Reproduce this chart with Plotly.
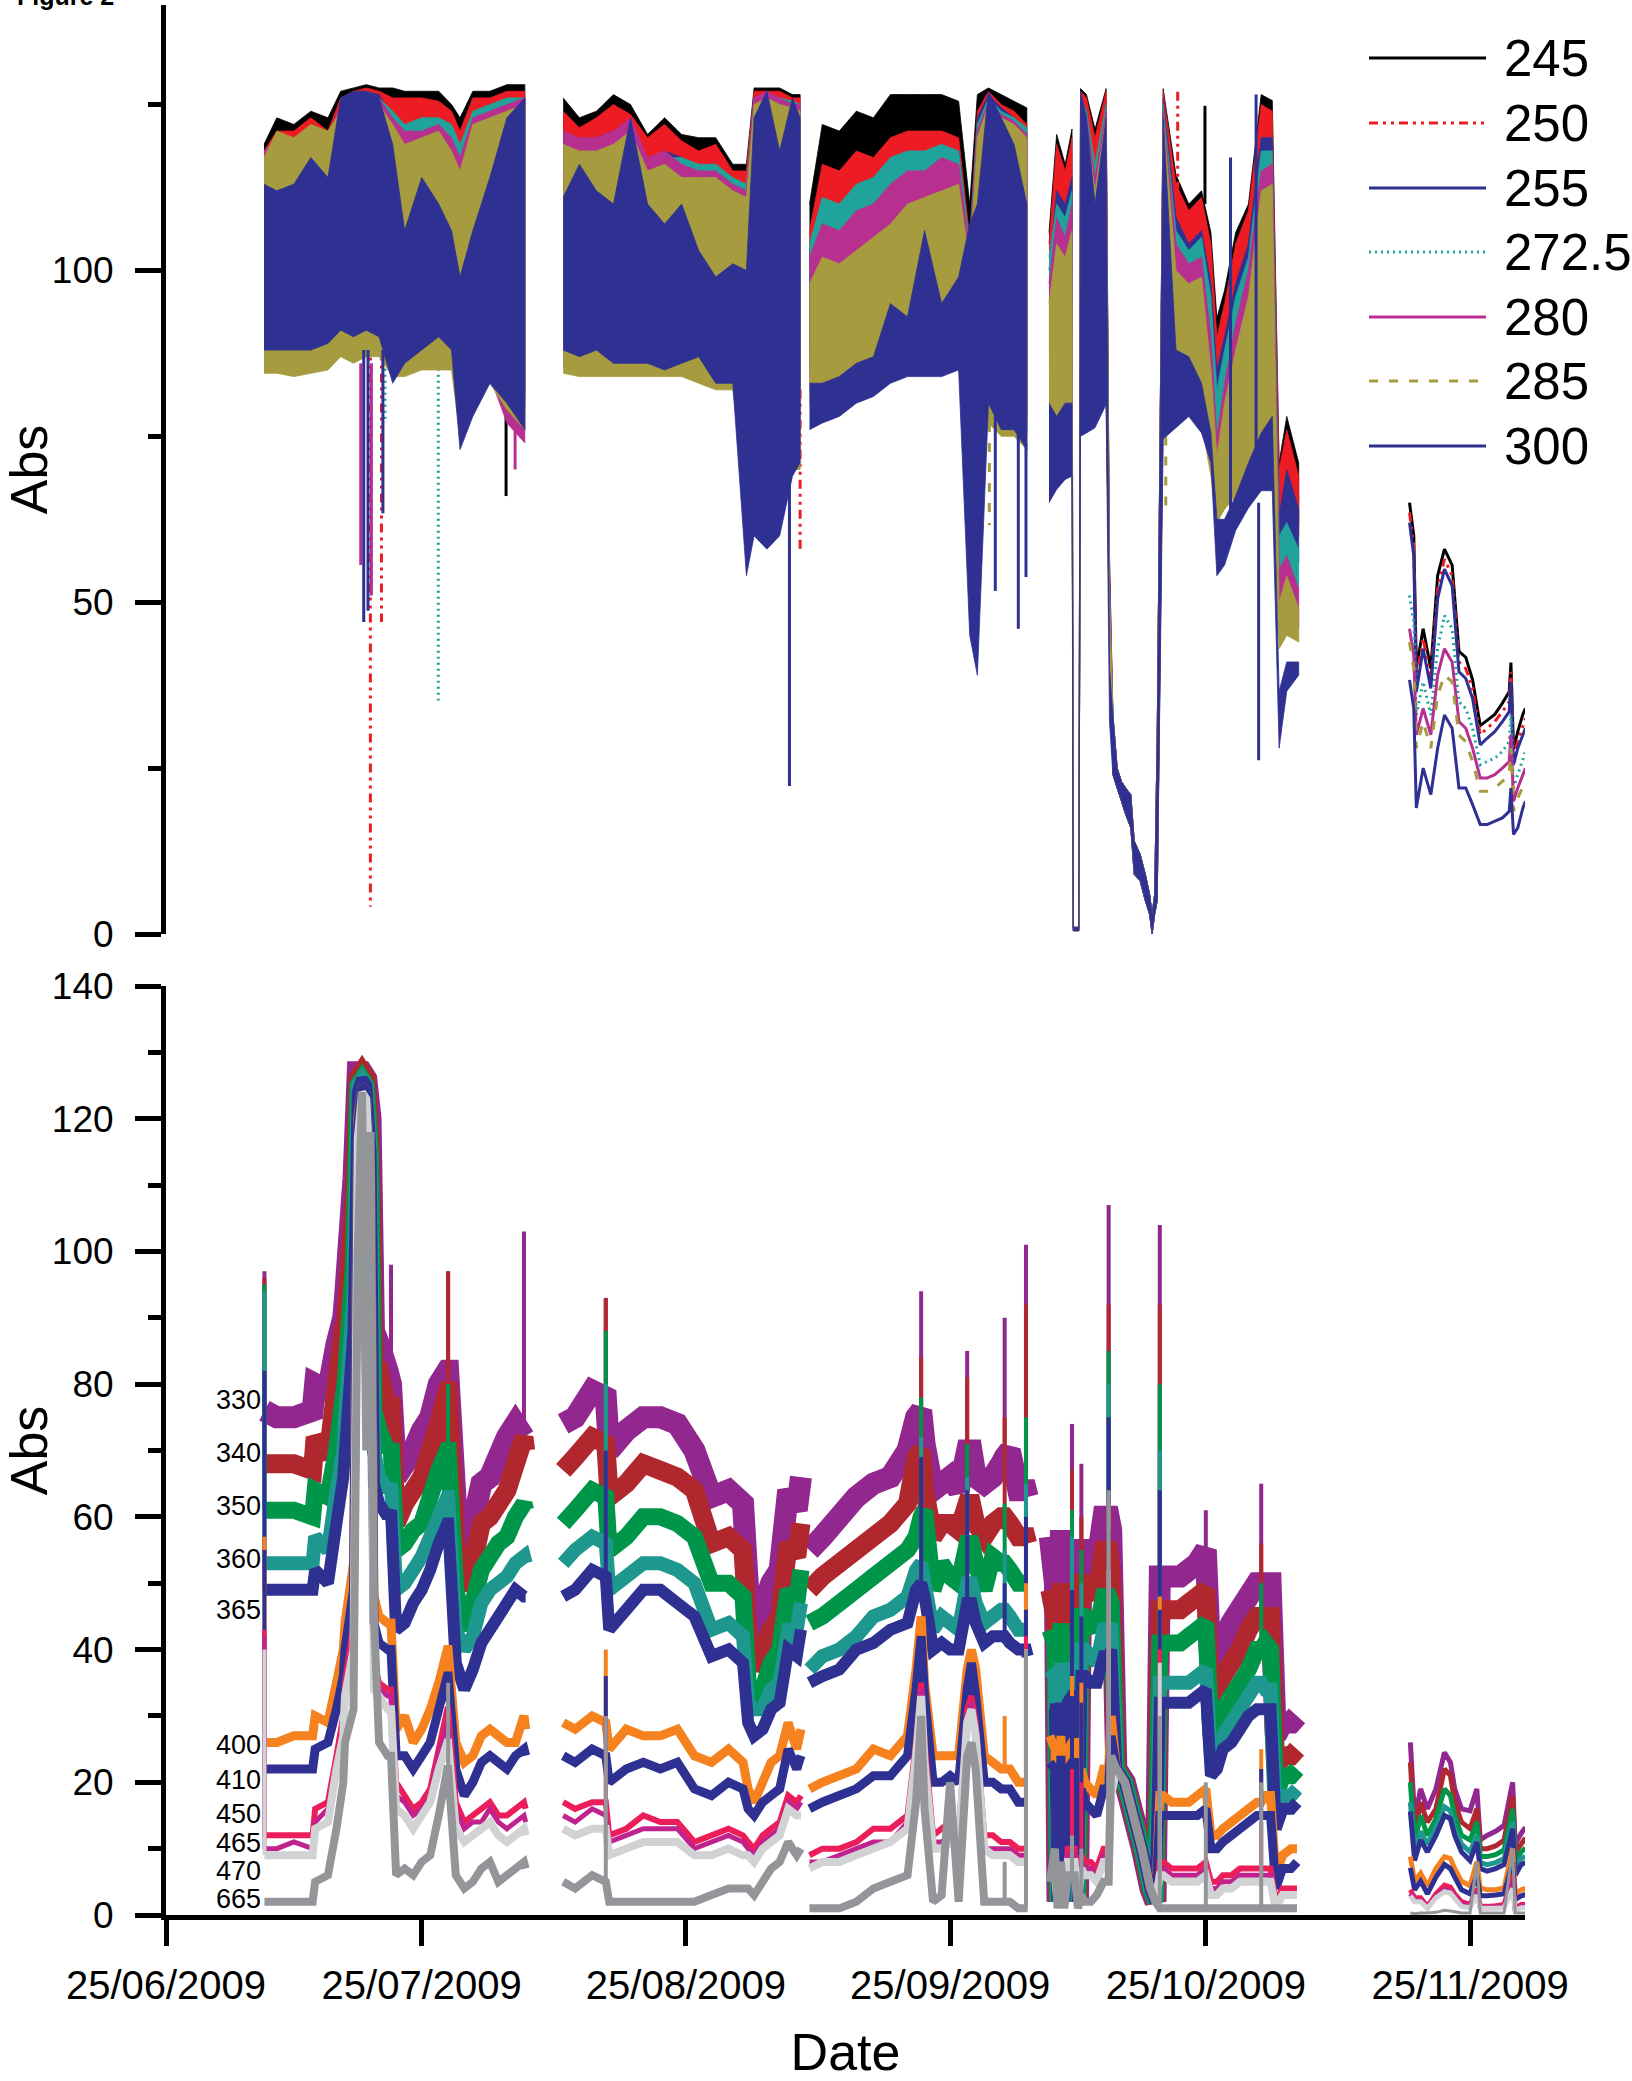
import pandas as pd
import plotly.graph_objects as go

T0 = pd.Timestamp("2009-06-25")          # day 0 of every "days" list below
X_END_DAYS = 159.45                       # right end of the time axis (days after 25/06/2009)

# ------------------------------------------------------------------ TOP PANEL (245-300 nm)
# band envelopes (upper / lower) per sampling day; None separates recording periods
top_days = [11.5, 13, 15, 17, 19, 20.5, 22, 23.5, 25, 26.6, 28, 30, 32, 33.5, 34.5, 36, 38, 40, 42.1, None,
            46.6, 48.5, 50.5, 52.5, 54.5, 56.5, 58.5, 60.5, 62.5, 64.5, 66.5, 68.1, 69, 70.5, 72, 73.5, 74.4, None,
            75.5, 77, 79, 81, 83, 85, 87, 89, 91, 93, 94.3, 95.2, 96.5, 98, 99.5, 101, None,
            103.6, 104.5, 105.5, 106.3, 106.45, 107.1, 107.3, 108, 109, 110.3, 110.7, 111.1, 111.6, 112.1, 112.6,
            113.2, 113.6, 114.3, 114.9, 115.4, 115.7, 116.0, 116.3, 117, 118.5, 120, 121.5, 122.6, 123.3, 124.2,
            125.5, 127, 128.5, 129.8, 130.6, 131.5, 132.9]

t245_hi = [119, 123, 122, 124, 123, 127, 127.5, 128, 127.5, 127.5, 127, 127, 127, 125, 123, 127, 127, 128, 128, None,
           126, 123, 124, 126.5, 125, 120.5, 123, 120.5, 120, 120, 116, 116, 127.5, 127.5, 127.5, 126.5, 126.5, None,
           110, 122, 121, 124, 123, 126.5, 126.5, 126.5, 126.5, 125.5, 110, 126.5, 127.5, 126.5, 125.5, 124.5, None,
           105.7, 120.5, 116, 121.3, 1, 1, 127.4, 126.5, 121.3, 127.4, 57, 33, 25, 23, 22, 21, 14, 12, 9, 6, 3, 6, 30,
           127.4, 114.4, 110, 112, 105.7, 92.8, 97, 105.7, 110, 126.5, 125.6, 71, 78, 71]
t245_lo = [90, 90, 90, 90, 90, 92, 92, 92, 92, 90, 90, 90, 90, 90, 86, 86, 88, 85, 82, None,
           90, 89, 89, 89, 89, 89, 89, 89, 88, 87, 87, 84, 82, 82, 82, 84, 84, None,
           88, 88, 88, 89, 90, 90, 91, 91, 91, 91, 78, 82, 82, 80, 80, 78, None,
           88, 88, 88, 88, 0.5, 0.5, 80, 88, 88, 88, 50, 24, 22, 20, 18, 16, 9, 8, 5, 3, 0, 3, 5,
           86, 86, 86, 84, 80, 74, 76, 78, 80, 84, 84, 62, 62, 62]

t250_hi = [118, 121, 121, 123, 121, 126, 127, 127.5, 127, 126, 126, 126, 125.5, 124, 121, 126, 126, 127, 127, None,
           124, 121.5, 123, 125, 123.5, 120, 122, 119.5, 118, 119, 115, 115, 127, 127, 127, 126, 126, None,
           106, 116, 115, 118, 117, 120, 121, 121, 121, 120, 105, 124, 127, 125, 124, 122, None,
           104, 119, 115, 120, 1, 1, 127, 126, 120, 127, 56, 33, 25, 23, 22, 21, 14, 12, 9, 6, 3, 6, 30,
           127, 113, 109, 111, 104, 90, 95, 104, 109, 125, 124, 70, 76, 69]
t250_lo = [89, 89, 89, 89, 89, 91, 91, 91, 91, 89, 89, 89, 89, 89, 84, 85, 87, 84, 81, None,
           89, 88, 88, 88, 88, 88, 88, 88, 87, 86, 86, 82, 80, 80, 80, 82, 82, None,
           87, 87, 87, 88, 89, 89, 90, 90, 90, 90, 76, 80, 81, 79, 79, 77, None,
           86, 86, 86, 86, 0.5, 0.5, 80, 86, 86, 86, 49, 24, 22, 20, 18, 16, 9, 8, 5, 3, 0, 3, 5,
           85, 85, 85, 83, 78, 72, 74, 76, 78, 82, 82, 60, 60, 60]

t255_hi = [116, 118, 117, 119, 118, 125, 126.5, 127, 126.5, 123, 120, 122, 122, 120, 118, 122, 123, 125, 126, None,
           120, 119, 120, 121, 122, 116, 118, 117, 114, 115, 112, 112, 126, 126.5, 126, 125, 125, None,
           103, 108, 108, 111, 112, 115, 116, 117, 118, 118, 104, 123, 126.5, 124.5, 123, 121, None,
           100, 112, 110, 114, 1, 1, 126, 124, 115, 124, 54, 33, 25, 23, 22, 21, 14, 12, 9, 6, 3, 6, 30,
           126, 108, 104, 106, 98, 85, 90, 98, 104, 120, 120, 63, 70, 64]
t255_lo = [88, 88, 88, 88, 88, 90, 90, 90, 90, 88, 88, 88, 88, 88, 82, 84, 86, 83, 80, None,
           88, 87, 87, 87, 87, 87, 87, 87, 86, 85, 85, 78, 76, 76, 76, 79, 79, None,
           85, 85, 86, 87, 88, 88, 89, 89, 89, 89, 72, 78, 80, 78, 78, 76, None,
           84, 84, 84, 84, 0.5, 0.5, 80, 84, 84, 84, 48, 24, 22, 20, 18, 16, 9, 8, 5, 3, 0, 3, 5,
           84, 84, 83, 81, 76, 70, 72, 74, 76, 80, 80, 56, 56, 56]

t2725_hi = [117, 119, 119, 121, 119, 125, 126, 127, 126, 124, 122, 123, 123, 122, 119, 124, 125, 126, 126, None,
            119, 118, 119, 120, 121, 115, 117, 117, 116, 116, 114, 113, 126, 126.5, 126, 125.5, 125, None,
            104, 111, 110, 113, 114, 117, 118, 118, 119, 118, 104, 122, 126, 124, 123, 121.5, None,
            102, 110, 108, 112, 1, 1, 126, 124, 116, 125, 53, 33, 25, 23, 22, 21, 14, 12, 9, 6, 3, 6, 30,
            125, 106, 103, 105, 96, 82, 88, 96, 102, 118, 118, 60, 62, 58]
t2725_lo = [87, 87, 87, 87, 87, 89, 89, 89, 89, 87, 87, 87, 87, 87, 80, 82, 85, 82, 79, None,
            87, 86, 86, 86, 86, 86, 86, 86, 85, 84, 84, 74, 72, 72, 72, 76, 76, None,
            84, 84, 85, 86, 87, 87, 88, 88, 88, 88, 70, 76, 79, 77, 77, 75, None,
            82, 82, 82, 82, 0.5, 0.5, 80, 82, 82, 82, 47, 24, 22, 20, 18, 16, 9, 8, 5, 3, 0, 3, 5,
            82, 82, 82, 80, 74, 66, 68, 71, 74, 78, 78, 50, 52, 52]

t280_hi = [118, 120, 118, 121, 120, 125, 126, 127, 126, 123, 121, 121, 122, 120, 117, 123, 124, 125, 126, None,
           121, 120, 120, 121, 123, 117, 118, 116, 115, 115, 113, 112, 126, 127, 126, 125, 125, None,
           102, 107, 106, 109, 110, 113, 115, 115, 117, 116, 103, 121, 125.5, 123.5, 122.5, 120.5, None,
           98, 108, 105, 110, 1, 1, 125, 123, 114, 124, 52, 33, 25, 23, 22, 21, 14, 12, 9, 6, 3, 6, 30,
           124, 104, 101, 102, 90, 75, 83, 92, 100, 115, 116, 55, 57, 52]
t280_lo = [85.5, 85.5, 85.5, 85.5, 86, 88, 87, 88, 88, 85, 85, 86, 86, 86, 77, 80, 84, 77, 74, None,
           85.5, 85, 85, 85, 85, 85, 85, 85, 84, 83, 83, 70, 68, 68, 68, 72, 72, None,
           82, 82, 83, 84, 85, 86, 87, 87, 87, 87, 68, 74, 78, 76, 76, 74, None,
           80, 80, 80, 80, 0.5, 0.5, 80, 80, 80, 82, 46, 24, 22, 20, 18, 16, 9, 8, 5, 3, 0, 3, 5,
           80, 80, 80, 78, 70, 64, 66, 68, 70, 74, 74, 45, 47, 46]

t285_hi = [117, 121, 120, 122, 121, 124, 125, 126.5, 125, 122, 119, 120, 121, 118, 115, 122, 123, 124, 125, None,
           119, 118, 118, 119, 121, 115, 116, 114, 114, 114, 112, 111, 125, 126, 125, 124.5, 124, None,
           98, 102, 101, 103, 105, 107, 110, 111, 112, 113, 101, 120, 125, 123, 122, 120, None,
           95, 104, 102, 106, 1, 1, 124, 122, 112, 123, 51, 33, 25, 23, 22, 21, 14, 12, 9, 6, 3, 6, 30,
           123, 100, 98, 99, 85, 72, 80, 88, 96, 112, 113, 50, 54, 49]
t285_lo = [84.5, 84.5, 84, 84.5, 85, 87, 86, 87, 87, 84, 84, 85, 85, 85, 75, 79, 83, 79, 76, None,
           84.5, 84, 84, 84, 84, 84, 84, 84, 83, 82, 82, 68, 67, 66, 67, 70, 70, None,
           80, 80, 81, 82, 83, 84, 85, 85, 86, 86, 66, 72, 77, 75, 75, 73, None,
           78, 78, 78, 78, 0.5, 0.5, 80, 78, 78, 80, 45, 24, 22, 20, 18, 16, 9, 8, 5, 3, 0, 3, 5,
           78, 78, 79, 77, 69, 62, 64, 66, 68, 72, 72, 43, 45, 44]

t300_hi = [113, 112, 113, 117, 114, 126, 127, 127, 126, 119, 106, 114, 110, 106, 99, 106, 114, 123, 126, None,
           111, 116, 112, 110, 123, 110, 107, 110, 103, 99, 101, 100, 123, 127, 118, 126, 123, None,
           83, 83, 84, 86, 87, 95, 93, 106, 95, 99, 107, 110, 127, 123, 119, 110, None,
           80, 78, 80, 80, 1, 1, 127, 123, 110, 123, 40, 33, 25, 23, 22, 21, 14, 12, 9, 6, 3, 6, 30,
           123, 88, 87, 83, 75.5, 62.5, 62.5, 66, 71, 75.5, 78, 36.6, 41, 41]
t300_lo = [88, 88, 88, 88, 89, 91, 90, 91, 90, 83, 86, 88, 90, 88, 73, 78, 83, 80, 76, None,
           88, 87, 88, 86, 86, 86, 85, 86, 87, 83, 83, 54, 60, 58, 60, 69, 71, None,
           76, 77, 78, 80, 81, 83, 84, 84, 84, 85, 45, 39, 80, 76, 76, 73, None,
           65, 67, 68.5, 69, 0.5, 0.5, 75, 75.5, 76.3, 79.8, 32, 24, 22, 20, 18, 16, 9, 8, 5, 3, 0, 3, 5,
           74.6, 76.3, 78, 75.5, 71, 54, 55.6, 60.8, 64.2, 66.8, 66.8, 28, 36.6, 39]

# isolated excursions: (day, start value, end value)
spikes_245 = [(39.9, 85, 66), (121.9, 110, 124.8)]
spikes_250 = [(23.98, 89, 4.1), (25.28, 89, 47), (74.4, 82, 57.3), (118.7, 112, 127)]
spikes_255 = []
spikes_2725 = [(31.95, 87, 35.2), (25.7, 87, 77)]
spikes_280 = [(22.85, 86, 55.6), (24.1, 86, 51), (40.96, 77, 70)]
spikes_285 = [(96.6, 77, 61.6), (117.3, 78, 63)]
spikes_300 = [(23.2, 88, 47), (23.7, 88, 48.7), (25.45, 88, 63.4), (73.15, 70, 22.3), (97.3, 78, 51.7),
              (100.0, 76, 46), (100.9, 74, 53.8), (124.9, 62, 117), (127.9, 70, 126.5), (128.2, 65, 26.2)]

# last recording period (individual lines)
top_days_E = [145.9, 146.4, 146.7, 147.5, 148.4, 149.2, 150, 150.9, 151.7, 152.5, 153.3, 154.2, 155, 155.9,
              156.8, 157.6, 157.8, 158.1, 158.6, 159.2, 159.5]
t245_E = [65, 60, 40, 46, 40, 54, 58, 55.6, 42.6, 41.7, 38.3, 31.4, 32.2, 33.1, 34.8, 36.5, 40.9, 27.9, 30.5, 33.1, 34]
t250_E = [63.5, 58.5, 38.5, 44.5, 38.5, 52, 56.5, 54, 41, 40, 37, 30, 31, 32, 33.5, 35, 39.5, 26.5, 29, 31.5, 32.5]
t255_E = [62, 57, 36.5, 43, 37, 50.5, 55, 52.5, 39.5, 38.5, 35.5, 28.5, 29.5, 30.5, 32, 33.5, 38, 25.5, 28, 30, 31]
t2725_E = [51, 47, 33, 38, 33, 43, 48, 46, 35, 34, 31, 25.5, 26, 26.5, 27.5, 29, 33, 22, 24, 26.5, 27.5]
t280_E = [46, 42, 30, 34, 30, 39, 43, 41, 32, 31, 28, 23.5, 23.5, 24, 25, 26, 30, 20, 22, 24, 25]
t285_E = [44, 40, 28, 32, 28, 36, 39, 38, 30, 29, 26, 21.5, 21.5, 22, 23, 24, 28, 18.5, 20.5, 22, 23]
t300_E = [38.3, 34, 19, 25, 21, 28, 33, 31, 22, 22, 19.5, 16.5, 16.5, 17, 17.5, 18.5, 22, 15, 16, 19, 20]

top_names = ["245", "250", "255", "272.5", "280", "285", "300"]

# ------------------------------------------------------------------ BOTTOM PANEL (330-665 nm)
bot_days = [11.55, 13, 15, 17.2, 17.5, 19, 20, 20.8, 21, 22, 22.5, 23, 23.5, 24, 24.4, 25, 26, 26.4, 27,
            28, 29, 30, 31, 32, 33, 33.1, 34, 35, 36, 37, 38, 39, 40, 41, 42, 42.2, None,
            46.6, 48, 50, 51.6, 52, 54, 56, 58, 60, 62, 64, 66, 67.7, 68.3, 69, 70, 71, 72, 73, 74, 74.5, None,
            75.5, 77, 79, 81, 83, 85, 87, 88, 88.6, 89, 90, 91, 92, 93, 94, 94.5, 95, 96, 97, 98, 98.4, 99, 100,
            100.9, 101.1, None,
            103.7, 104.3, 104.6, 105.0, 105.4, 105.8, 106.3, 106.6, 107.0, 107.4, 107.8, 108.5, 109.2, 110.0, 110.6,
            110.9, 111.5, 112.5, 113.5, 114.5, 115.5, 116.1, 116.6, 117, 118, 119, 120, 121, 122, 122.6, 123.3,
            124, 125, 126, 127, 128, 128.5, 129, 129.6, 130.2, 131, 132, 132.7]

b330 = [76, 75, 75, 76, 80, 79, 86, 90, 93, 111, 127, 127, 126, 120, 88, 86, 82, 80, 66, 68, 70, 73, 75, 80, 82, 82, 62, 53, 59, 65, 66, 69, 72, 74, 72, 72, None,
        74, 75, 79, 78, 70, 73, 75, 75, 74, 70, 63, 64, 62, 49, 42, 46, 50, 52, 64, 61, 66, None,
        55, 57, 60, 63, 65, 66, 70, 75, 76, 71, 64, 65, 66, 64, 70, 70, 66, 65, 66, 68, 69, 70, 64, 64, 63, None,
        57, 50, 2, 58, 2, 52, 52, 52, 2, 55, 55, 54, 53, 60, 60, 58, 22, 20, 15, 10, 4, 2, 51, 51, 51, 51, 52, 53, 55, 36, 37, 41, 44, 46, 48, 50, 50, 50, 50, 27, 29, 29, 30]
b340 = [68, 68, 68, 67, 72, 69, 80, 88, 88, 107, 126, 127, 126, 116, 82, 82, 76, 78, 59, 62, 64, 66, 70, 74, 79, 79, 56, 49, 53, 59, 60, 62, 64, 68, 72, 70, None,
        67, 69, 72, 71, 63, 65, 68, 67, 66, 64, 56, 57, 55, 42, 37, 40, 43, 45, 56, 54, 59, None,
        49, 51, 53, 55, 57, 59, 62, 69, 70, 64, 57, 59, 59, 58, 62, 62, 59, 57, 59, 60, 60, 59, 57, 57, 56, None,
        49, 45, 2, 50, 2, 47, 47, 47, 2, 50, 50, 49, 48, 55, 55, 52, 22, 20, 15, 10, 4, 2, 46, 46, 46, 46, 47, 48, 49, 31, 33, 36, 38, 40, 43, 45, 45, 45, 45, 22, 24, 24, 25]
b350 = [61, 61, 61, 60, 64, 63, 70, 78, 80, 98, 125, 126, 125, 115, 76, 73, 70, 71, 55, 56, 58, 59, 63, 67, 70, 70, 49, 43, 47, 52, 54, 56, 57, 60, 62, 61, None,
        59, 61, 64, 63, 55, 57, 60, 60, 59, 57, 50, 50, 48, 35, 33, 34, 38, 40, 49, 47, 52, None,
        44, 45, 47, 49, 51, 53, 55, 57, 60, 61, 49, 53, 51, 50, 56, 56, 53, 49, 54, 53, 53, 52, 50, 50, 50, None,
        43, 41, 2, 44, 2, 42, 42, 42, 2, 45, 45, 44, 43, 48, 48, 47, 22, 20, 15, 10, 4, 2, 41, 41, 41, 41, 42, 43, 44, 27, 28, 31, 33, 35, 37, 40, 40, 41, 40, 18, 21, 21, 22]
b360 = [53, 53, 53, 53, 57, 55, 64, 70, 75, 93, 125, 126, 125, 115, 70, 66, 64, 65, 49, 50, 52, 54, 57, 60, 63, 63, 43, 40, 42, 47, 49, 50, 51, 53, 54, 53, None,
        53, 55, 57, 56, 49, 51, 53, 53, 52, 50, 43, 44, 42, 32, 31, 31, 34, 35, 43, 43, 47, None,
        37, 39, 40, 42, 45, 46, 48, 52, 53, 50, 43, 45, 44, 43, 50, 50, 47, 44, 45, 46, 46, 45, 43, 43, 43, None,
        37, 36, 2, 38, 2, 37, 37, 37, 2, 40, 40, 39, 38, 43, 43, 43, 22, 20, 15, 10, 4, 2, 35, 35, 35, 35, 35, 36, 37, 24, 25, 27, 29, 31, 33, 35, 35, 34, 34, 15, 18, 18, 19]
b365 = [49, 49, 49, 49, 52, 50, 59, 66, 70, 88, 124, 126, 125, 115, 65, 62, 60, 61, 43, 44, 47, 49, 52, 56, 59, 59, 38, 34, 37, 41, 43, 45, 47, 49, 48, 48, None,
        48, 49, 52, 51, 43, 46, 49, 49, 47, 45, 39, 40, 38, 29, 27, 28, 31, 32, 40, 39, 43, None,
        35, 36, 37, 40, 41, 43, 44, 49, 50, 48, 40, 41, 40, 40, 47, 47, 44, 41, 42, 42, 42, 41, 40, 40, 39, None,
        31, 31, 2, 32, 2, 32, 33, 33, 2, 36, 36, 35, 35, 39, 39, 40, 22, 20, 15, 10, 4, 2, 32, 32, 32, 32, 32, 33, 34, 21, 22, 25, 26, 28, 30, 31, 31, 31, 31, 13, 16, 16, 17]
b400 = [26, 26, 27, 27, 30, 29, 35, 40, 44, 53, 120, 125, 124, 112, 48, 45, 44, 44, 28, 30, 26, 28, 31, 35, 40, 40, 26, 23, 24, 27, 28, 27, 26, 26, 30, 28, None,
        29, 28, 30, 29, 25, 28, 27, 27, 28, 24, 23, 25, 23, 19, 17, 20, 23, 24, 29, 25, 28, None,
        19, 20, 21, 22, 25, 24, 27, 37, 45, 35, 24, 24, 24, 24, 37, 40, 37, 24, 23, 22, 22, 22, 20, 20, 20, None,
        27, 25, 2, 27, 2, 25, 26, 26, 2, 22, 20, 19, 18, 22, 22, 30, 22, 20, 15, 10, 4, 2, 18, 18, 17, 17, 17, 18, 19, 12, 12, 13, 14, 15, 16, 17, 17, 18, 18, 6, 9, 10, 10]
b410 = [22, 22, 22, 22, 25, 26, 31, 36, 40, 49, 119, 125, 124, 111, 44, 41, 40, 40, 24, 24, 22, 24, 26, 31, 36, 36, 22, 18, 20, 23, 24, 23, 22, 24, 25, 24, None,
        24, 23, 25, 24, 20, 22, 23, 22, 23, 19, 18, 20, 19, 16, 15, 17, 18, 19, 25, 22, 24, None,
        16, 17, 18, 19, 21, 21, 24, 34, 42, 33, 20, 20, 21, 20, 34, 38, 33, 20, 20, 19, 19, 19, 17, 17, 17, None,
        23, 22, 2, 24, 2, 22, 23, 23, 2, 19, 17, 16, 15, 19, 19, 27, 22, 20, 15, 10, 4, 2, 15, 15, 15, 15, 15, 15, 16, 10, 10, 11, 12, 13, 14, 15, 15, 15, 15, 4, 7, 7, 8]
b450 = [12, 12, 12, 12, 16, 17, 24, 30, 35, 44, 118, 124, 123, 110, 38, 35, 34, 34, 20, 18, 16, 17, 19, 25, 31, 31, 17, 14, 15, 16, 17, 15, 15, 16, 17, 16, None,
        17, 16, 17, 17, 12, 13, 15, 14, 14, 11, 12, 13, 12, 11, 10, 12, 13, 14, 18, 17, 18, None,
        9, 10, 10, 11, 13, 13, 15, 26, 35, 26, 12, 13, 14, 12, 31, 33, 29, 12, 12, 11, 11, 11, 10, 10, 10, None,
        8, 8, 2, 8, 2, 10, 10, 10, 2, 9, 8, 8, 7, 10, 10, 20, 22, 20, 15, 10, 4, 2, 8, 8, 7, 7, 7, 7, 8, 5, 5, 6, 6, 7, 7, 7, 7, 7, 7, 2, 4, 4, 4]
b465 = [10, 10, 11, 10, 14, 16, 23, 28, 33, 42, 118, 124, 123, 110, 36, 34, 33, 33, 18, 17, 15, 16, 18, 24, 29, 29, 16, 13, 14, 14, 16, 14, 13, 14, 15, 14, None,
        15, 14, 16, 15, 11, 12, 13, 13, 13, 10, 11, 12, 11, 10, 9, 11, 12, 13, 17, 16, 17, None,
        8, 8, 9, 10, 11, 11, 14, 25, 34, 25, 11, 11, 12, 11, 30, 32, 28, 10, 10, 10, 10, 10, 9, 9, 9, None,
        7, 7, 2, 7, 2, 9, 9, 9, 2, 8, 7, 7, 6, 9, 9, 19, 22, 20, 15, 10, 4, 2, 7, 7, 6, 6, 6, 6, 7, 4, 4, 5, 5, 6, 6, 6, 6, 6, 6, 2, 3, 3, 3]
b470 = [9, 9, 9, 9, 13, 14, 22, 27, 33, 40, 117, 124, 123, 110, 34, 33, 31, 31, 16, 15, 13, 15, 17, 22, 26, 26, 13, 11, 12, 13, 14, 12, 11, 12, 13, 12, None,
        13, 12, 13, 13, 9, 10, 11, 11, 11, 9, 9, 10, 9, 9, 8, 10, 11, 12, 16, 15, 15, None,
        7, 8, 8, 9, 10, 11, 13, 24, 33, 23, 10, 10, 11, 10, 29, 31, 27, 10, 9, 9, 9, 9, 8, 8, 8, None,
        6, 6, 2, 6, 2, 8, 8, 8, 2, 7, 6, 6, 5, 8, 8, 18, 22, 20, 15, 10, 4, 2, 6, 6, 5, 5, 5, 5, 6, 3, 3, 4, 4, 5, 5, 5, 5, 5, 5, 1, 3, 3, 3]
b665 = [2, 2, 2, 2, 5, 6, 13, 20, 26, 31, 100, 124, 70, 118, 45, 26, 24, 24, 6, 7, 6, 8, 9, 15, 22, 22, 6, 4, 5, 7, 8, 5, 6, 7, 8, 7, None,
        5, 4, 6, 5, 2, 2, 2, 2, 2, 2, 3, 4, 4, 4, 3, 5, 7, 8, 11, 9, 10, None,
        1, 1, 1, 2, 4, 5, 6, 17, 30, 16, 2, 3, 20, 2, 24, 26, 22, 2, 2, 2, 2, 2, 1, 1, 1, None,
        5, 10, 1, 8, 1, 6, 6, 6, 1, 3, 2, 2, 3, 5, 5, 24, 22, 20, 15, 10, 4, 2, 1, 1, 1, 1, 1, 1, 1, 1, 1, 1, 1, 1, 1, 1, 1, 1, 1, 1, 1, 1, 1]

# short-lived excursions of the bottom series: (day, start value, end value)
bs330 = [(11.55, 76, 97), (20.8, 90, 100), (26.4, 80, 98), (33.1, 82, 97), (42, 72, 103), (51.6, 78, 93),
         (88.6, 76, 94), (94, 70, 85), (98.4, 69, 90), (100.9, 64, 101), (106.3, 52, 74), (107.4, 55, 68),
         (110.6, 60, 107), (116.6, 51, 104), (122, 55, 61), (128.5, 50, 65)]
bs340 = [(11.55, 68, 96), (33.1, 79, 97), (51.6, 71, 93), (88.6, 70, 84), (94, 62, 81), (98.4, 60, 75),
         (100.9, 57, 92), (106.3, 47, 67), (107.4, 50, 60), (110.6, 55, 92), (116.6, 46, 92), (128.5, 45, 56)]
bs350 = [(11.55, 61, 95), (33.1, 70, 80), (51.6, 63, 88), (88.6, 60, 78), (94, 56, 71), (98.4, 53, 62),
         (100.9, 50, 75), (106.3, 42, 61), (107.4, 45, 55), (110.6, 48, 85), (116.6, 41, 80), (128.5, 40, 50)]
bs360 = [(11.55, 53, 94), (51.6, 56, 80), (88.6, 53, 72), (94, 50, 66), (98.4, 46, 55), (100.9, 43, 65),
         (106.3, 37, 57), (107.4, 40, 50), (110.6, 43, 80), (116.6, 35, 70)]
bs365 = [(11.55, 49, 82), (51.6, 51, 70), (88.6, 50, 69), (94, 47, 64), (98.4, 42, 50), (100.9, 40, 60),
         (106.3, 33, 49), (107.4, 36, 45), (110.6, 39, 75), (116.6, 32, 64)]
bs400 = [(11.55, 26, 57), (51.6, 29, 40), (98.4, 22, 30), (100.9, 20, 50), (106.3, 26, 36), (107.4, 22, 35),
         (110.6, 22, 62), (116.6, 18, 48), (128.5, 17, 25)]
bs410 = [(11.55, 22, 55), (51.6, 24, 36), (100.9, 17, 46), (106.3, 23, 33), (107.4, 19, 32), (110.6, 19, 58),
         (116.6, 15, 46), (128.5, 15, 22)]
bs450 = [(11.55, 12, 43), (51.6, 17, 30), (100.9, 10, 42), (106.3, 10, 22), (107.4, 9, 20), (110.6, 10, 55),
         (116.6, 8, 40), (128.5, 7, 14)]
bs465 = [(11.55, 10, 42)]
bs470 = [(11.55, 9, 40), (100.9, 8, 40), (110.6, 8, 52), (116.6, 6, 38)]
bs665 = [(33.1, 22, 35), (51.6, 5, 30), (98.4, 2, 8), (100.9, 1, 40), (106.3, 6, 12), (107.4, 3, 10),
         (110.6, 5, 64), (116.6, 1, 30), (122, 1, 20), (128.5, 1, 20)]

bot_days_E = [146, 146.5, 147.2, 148, 149, 150, 150.7, 151.2, 152, 153, 153.8, 154.2, 155, 156, 157, 158, 158.3, 159, 159.5]
b330_E = [26, 14.5, 19, 16, 19, 24.5, 23, 19, 16, 15.7, 19, 11.3, 12, 12.6, 13.5, 20, 10.7, 12.3, 13.2]
b340_E = [23, 12, 17, 14, 16, 22, 21, 17, 14, 13, 16, 10, 10, 10.4, 11.3, 18, 9.5, 10.7, 11.6]
b350_E = [20, 11, 15, 12, 14.5, 19, 18, 15, 12, 11.3, 14, 8.8, 8.8, 9.1, 9.8, 16, 8.2, 9.5, 10.1]
b360_E = [17, 9.5, 12.6, 10.7, 13.2, 16.3, 15.7, 13, 10.7, 9.5, 12, 7.9, 7.6, 7.9, 8.5, 14, 7.3, 8.5, 8.8]
b365_E = [15.6, 8.2, 11.3, 9.5, 12, 15, 14.5, 12, 9.5, 8.2, 11, 7, 6.6, 7, 7.6, 13, 6, 7.6, 7.9]
b400_E = [8.8, 5.1, 6.3, 4.4, 7, 8.8, 8.5, 7, 5.1, 4.4, 8, 4.1, 3.8, 3.8, 4.1, 10, 3.2, 3.8, 4]
b410_E = [7.1, 3.8, 5.1, 3.2, 5.7, 7.6, 7, 5.7, 3.8, 3.2, 6, 2.9, 2.9, 3, 3.2, 8, 2.3, 2.9, 3.1]
b450_E = [3.8, 2.6, 2.6, 1.3, 3.2, 4.5, 4.2, 3.2, 2, 1.6, 4, 1.3, 1.3, 1.4, 1.6, 6, 1, 1.6, 1.6]
b465_E = [3.2, 2.2, 2.2, 1.1, 2.9, 3.8, 3.6, 2.8, 1.6, 1.3, 3.5, 1.1, 1.1, 1.2, 1.3, 5, 0.8, 1.3, 1.3]
b470_E = [2.9, 2, 2, 1, 2.6, 3.5, 3.3, 2.5, 1.3, 1.1, 3, 1, 1, 1, 1.1, 4, 0.7, 1.1, 1.1]
b665_E = [0.3, 0.2, 0.3, 0.3, 0.4, 0.7, 0.6, 0.5, 0.3, 0.3, 8, 0.3, 0.3, 0.3, 0.3, 10, 0.3, 0.3, 0.3]

bot_names = ["330", "340", "350", "360", "365", "400", "410", "450", "465", "470", "665"]

# x-axis tick dates
tick_dates = ["2009-06-25", "2009-07-25", "2009-08-25", "2009-09-25", "2009-10-25", "2009-11-25"]

# ------------------------------------------------------------------ styles
TOP_STYLE = {
    "245": dict(color="#000000", dash="solid"),
    "250": dict(color="#ED1C24", dash="9px,5px,3px,5px,3px,5px"),
    "255": dict(color="#2E3192", dash="solid"),
    "272.5": dict(color="#1FA39B", dash="2px,4px"),
    "280": dict(color="#B8308F", dash="solid"),
    "285": dict(color="#A69B3E", dash="9px,11px"),
    "300": dict(color="#2E3192", dash="solid"),
}
BOT_STYLE = {
    "330": ("#92278F", 22), "340": ("#B0282E", 19), "350": ("#00964A", 17), "360": ("#1E978F", 14),
    "365": ("#2E3192", 12), "400": ("#F6821F", 9), "410": ("#2E3192", 9), "450": ("#EC1E5A", 6),
    "465": ("#C0238E", 5), "470": ("#D1D2D4", 8), "665": ("#939598", 8),
}

FONT = "Liberation Sans, Arial, Helvetica, sans-serif"
W, H = 1632, 2081


def to_time(days):
    return [None if d is None else T0 + pd.Timedelta(days=d) for d in days]


def band(days, hi, lo):
    assert len(days) == len(hi) == len(lo), (len(days), len(hi), len(lo))
    xs, ys, cur = [], [], []
    for d, h, l in list(zip(days, hi, lo)) + [(None, None, None)]:
        if d is None:
            if cur:
                ds = [c[0] for c in cur]
                hs = [c[1] for c in cur]
                ls = [c[2] for c in cur]
                xs += to_time(ds + ds[::-1]) + [None]
                ys += hs + ls[::-1] + [None]
            cur = []
        else:
            cur.append((d, h, l))
    return xs, ys


def spike_xy(spikes):
    sx, sy = [], []
    for d, a, b in spikes:
        sx += [d, d, None]
        sy += [a, b, None]
    return to_time(sx), sy


fig = go.Figure()

top_data = {
    "245": (t245_hi, t245_lo, spikes_245, t245_E),
    "250": (t250_hi, t250_lo, spikes_250, t250_E),
    "255": (t255_hi, t255_lo, spikes_255, t255_E),
    "272.5": (t2725_hi, t2725_lo, spikes_2725, t2725_E),
    "280": (t280_hi, t280_lo, spikes_280, t280_E),
    "285": (t285_hi, t285_lo, spikes_285, t285_E),
    "300": (t300_hi, t300_lo, spikes_300, t300_E),
}

for name in top_names:
    hi, lo, spikes, seg_e = top_data[name]
    st = TOP_STYLE[name]
    bx, by = band(top_days, hi, lo)
    fig.add_trace(go.Scatter(x=bx, y=by, xaxis="x", yaxis="y", mode="lines", fill="toself",
                             fillcolor=st["color"], line=dict(color=st["color"], width=0.8, simplify=False),
                             name=name, showlegend=False, hoverinfo="skip"))
    if spikes:
        sx, sy = spike_xy(spikes)
        fig.add_trace(go.Scatter(x=sx, y=sy, xaxis="x", yaxis="y", mode="lines",
                                 line=dict(color=st["color"], width=3, dash=st["dash"]),
                                 showlegend=False, hoverinfo="skip"))

for name in top_names:
    st = TOP_STYLE[name]
    seg_e = top_data[name][3]
    assert len(seg_e) == len(top_days_E)
    fig.add_trace(go.Scatter(x=to_time(top_days_E), y=seg_e, xaxis="x", yaxis="y", mode="lines",
                             line=dict(color=st["color"], width=3, dash=st["dash"]),
                             showlegend=False, hoverinfo="skip"))

bot_data = {
    "330": (b330, b330_E, bs330), "340": (b340, b340_E, bs340), "350": (b350, b350_E, bs350),
    "360": (b360, b360_E, bs360), "365": (b365, b365_E, bs365), "400": (b400, b400_E, bs400),
    "410": (b410, b410_E, bs410), "450": (b450, b450_E, bs450), "465": (b465, b465_E, bs465),
    "470": (b470, b470_E, bs470), "665": (b665, b665_E, bs665),
}
for name in bot_names:
    vals, vals_e, spikes = bot_data[name]
    assert len(vals) == len(bot_days), (name, len(vals), len(bot_days))
    assert len(vals_e) == len(bot_days_E), name
    color, width = BOT_STYLE[name]
    fig.add_trace(go.Scatter(x=to_time(bot_days), y=vals, xaxis="x", yaxis="y2", mode="lines",
                             line=dict(color=color, width=width, simplify=False), connectgaps=False,
                             name=name, showlegend=False, hoverinfo="skip"))
    sx, sy = spike_xy(spikes)
    fig.add_trace(go.Scatter(x=sx, y=sy, xaxis="x", yaxis="y2", mode="lines",
                             line=dict(color=color, width=4), showlegend=False, hoverinfo="skip"))
    fig.add_trace(go.Scatter(x=to_time(bot_days_E), y=vals_e, xaxis="x", yaxis="y2", mode="lines",
                             line=dict(color=color, width=5 if name != "665" else 3, simplify=False),
                             showlegend=False, hoverinfo="skip"))

# ------------------------------------------------------------------ layout
x_dom = [166 / W, 1525 / W]
top_dom = [1 - 934 / H, 1 - 5 / H]
bot_dom = [1 - 1915 / H, 1 - 986 / H]

axis_common = dict(showline=True, linewidth=5, linecolor="black", ticks="outside", ticklen=26,
                   tickwidth=5, tickcolor="black", showgrid=False, zeroline=False, automargin=False,
                   tickfont=dict(family=FONT, size=37, color="black"), ticklabelstandoff=14)

fig.update_layout(
    width=W, height=H, margin=dict(l=0, r=0, t=0, b=0, autoexpand=False),
    paper_bgcolor="white", plot_bgcolor="rgba(0,0,0,0)", showlegend=False,
    font=dict(family=FONT, color="black"),
    xaxis=dict(domain=x_dom, anchor="y2", type="date", automargin=False,
               range=[T0, T0 + pd.Timedelta(days=X_END_DAYS)],
               tickvals=tick_dates, tickformat="%d/%m/%Y", tickangle=0,
               showline=True, linewidth=5, linecolor="black", ticks="outside", ticklen=26,
               tickwidth=5, tickcolor="black", showgrid=False, zeroline=False,
               tickfont=dict(family=FONT, size=40, color="black"), ticklabelstandoff=5,
               title=dict(text="Date", font=dict(family=FONT, size=52), standoff=42)),
    yaxis=dict(domain=top_dom, anchor="x", range=[0, 140], tickmode="linear", tick0=0, dtick=50,
               minor=dict(ticks="outside", ticklen=13, tickwidth=5, tickcolor="black", dtick=25, tick0=0),
               title=dict(text="Abs", font=dict(family=FONT, size=52), standoff=8),
               **axis_common),
    yaxis2=dict(domain=bot_dom, anchor="x", range=[0, 140], tickmode="linear", tick0=0, dtick=20,
                minor=dict(ticks="outside", ticklen=13, tickwidth=5, tickcolor="black", dtick=10, tick0=0),
                title=dict(text="Abs", font=dict(family=FONT, size=52), standoff=8),
                **axis_common),
)

# legend of the top panel (line samples + labels)
legend_rows_px = [58, 123, 188, 252, 317, 381, 446]
shapes, annos = [], []
for name, ypx in zip(top_names, legend_rows_px):
    st = TOP_STYLE[name]
    yp = 1 - ypx / H
    shapes.append(dict(type="line", xref="paper", yref="paper", x0=1369 / W, x1=1486 / W, y0=yp, y1=yp,
                       line=dict(color=st["color"], width=3, dash=st["dash"])))
    annos.append(dict(text=name, xref="paper", yref="paper", x=1502 / W, y=yp, xanchor="left",
                      yanchor="middle", showarrow=False, font=dict(family=FONT, size=51, color="black")))

# wavelength labels next to the start of the bottom-panel series
label_vals = [77.6, 69.6, 61.6, 53.6, 46, 25.6, 20.4, 15.2, 10.8, 6.6, 2.4]
for name, yv in zip(bot_names, label_vals):
    annos.append(dict(text=name, xref="x", yref="y2", x=T0 + pd.Timedelta(days=11.38), y=yv,
                      xanchor="right", yanchor="middle", showarrow=False,
                      font=dict(family=FONT, size=27, color="black")))

# page caption, cropped by the top edge as in the original figure
annos.append(dict(text="<b>Figure 2</b>", xref="paper", yref="paper", x=15 / W, y=1 - 12 / H,
                  xanchor="left", yanchor="bottom", showarrow=False,
                  font=dict(family=FONT, size=25, color="black")))

fig.update_layout(shapes=shapes, annotations=annos)
fig.write_html("out.html")
